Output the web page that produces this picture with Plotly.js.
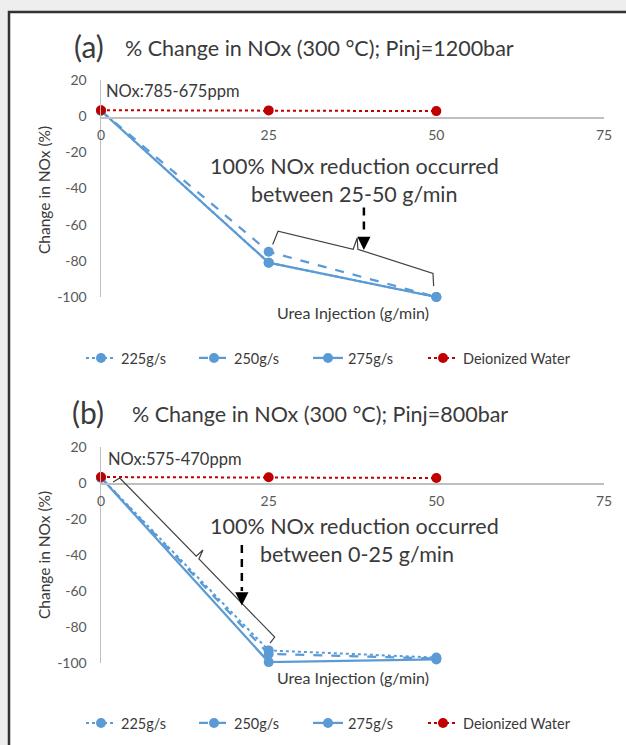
<!DOCTYPE html>
<html><head><meta charset="utf-8">
<script src="https://cdn.plot.ly/plotly-3.0.1.min.js"></script>
<style>html,body{margin:0;padding:0;background:#fff}#chart{width:626px;height:745px}</style>
</head><body><div id="chart"></div>
<script>
// ---- data ----
const injection = [0, 25, 50];
const seriesNames = ['225g/s', '250g/s', '275g/s', 'Deionized Water'];
// panel (a) Pinj = 1200 bar
const a225 = [3, -81, -100];
const a250 = [3, -75, -100];
const a275 = [3, -81, -100];
const aWater = [3.3, 3.2, 2.8];
// panel (b) Pinj = 800 bar
const b225 = [3, -93, -97];
const b250 = [3, -95, -97.5];
const b275 = [3, -99.5, -98];
const bWater = [3.3, 3.2, 2.8];
const xTickVals = [0, 25, 50, 75];
const xTickText = ['0', '25', '50', '75'];
const yTickVals = [20, 0, -20, -40, -60, -80, -100];
const yTickText = ['20', '0', '-20', '-40', '-60', '-80', '-100'];

const FONT = 'Lato, "Open Sans", sans-serif';
const BLUE = '#5B9BD5', RED = '#C00000', TXT = '#3a3a3a';

const styles = [
  {dash: 'dot', color: BLUE, width: 2},
  {dash: 'dash', color: BLUE, width: 2.25},
  {dash: 'solid', color: BLUE, width: 2.25},
  {dash: 'dot', color: RED, width: 2}
];

function mk(ys, i, xa, ya, leg) {
  return {
    x: injection, y: ys, name: seriesNames[i], type: 'scatter', mode: 'lines+markers',
    xaxis: xa, yaxis: ya, legend: leg, cliponaxis: false,
    line: {color: styles[i].color, dash: styles[i].dash, width: styles[i].width},
    marker: {color: styles[i].color, size: 10}
  };
}

const data = [
  mk(a225, 0, 'x', 'y', 'legend'), mk(a250, 1, 'x', 'y', 'legend2'),
  mk(a275, 2, 'x', 'y', 'legend3'), mk(aWater, 3, 'x', 'y', 'legend4'),
  mk(b225, 0, 'x2', 'y2', 'legend5'), mk(b250, 1, 'x2', 'y2', 'legend6'),
  mk(b275, 2, 'x2', 'y2', 'legend7'), mk(bWater, 3, 'x2', 'y2', 'legend8')
];

const W = 626, H = 745;
const px = v => v / W, py = v => 1 - v / H;
const xDom = [px(101), px(604)];

function xAxis(pos) {
  return {domain: xDom, range: [0, 75], anchor: 'free', position: pos,
    showline: true, linecolor: '#bfbfbf', linewidth: 1.5, ticks: '',
    tickvals: xTickVals, ticktext: xTickText, tickfont: {family: FONT, size: 14, color: '#595959'},
    ticklabelstandoff: 5, showgrid: false, zeroline: false, fixedrange: true};
}
function yAxis(dom, anc) {
  return {domain: dom, range: [-100, 20], anchor: anc,
    showline: true, linecolor: '#bfbfbf', linewidth: 1.5, ticks: '',
    tickvals: yTickVals, ticktext: yTickText, tickfont: {family: FONT, size: 14, color: '#595959'},
    ticklabelstandoff: 10, showgrid: false, zeroline: false, fixedrange: true};
}

function txt(text, x, y, size, xanchor, extra) {
  return Object.assign({text: text, xref: 'paper', yref: 'paper', x: px(x), y: py(y),
    xanchor: xanchor || 'left', yanchor: 'middle', showarrow: false,
    font: {family: FONT, size: size, color: TXT}}, extra || {});
}

const annotations = [
  // panel a
  txt('(a)', 72, 46, 30),
  txt('% Change in NOx (300 °C); Pinj=1200bar', 123, 48, 21.5),
  txt('NOx:785-675ppm', 104, 91, 16.5),
  txt('100% NOx reduction occurred', 354, 166, 21.5, 'center'),
  txt('between 25-50 g/min', 354, 194, 21.5, 'center'),
  txt('Urea Injection (g/min)', 353, 312, 16, 'center'),
  txt('Change in NOx (%)', 44, 190, 15.5, 'center', {textangle: -90}),
  {xref: 'x', yref: 'y', x: 39.2, y: -74, ax: 0, ay: -14, text: '', showarrow: true,
   arrowhead: 2, arrowsize: 1.2, arrowwidth: 2.2, arrowcolor: '#000'},
  // panel b
  txt('(b)', 70, 412, 30),
  txt('% Change in NOx (300 °C); Pinj=800bar', 130, 414, 21.5),
  txt('NOx:575-470ppm', 106, 459, 16.5),
  txt('100% NOx reduction occurred', 354, 526, 21.5, 'center'),
  txt('between 0-25 g/min', 357, 554, 21.5, 'center'),
  txt('Urea Injection (g/min)', 353, 677, 16, 'center'),
  txt('Change in NOx (%)', 44, 555, 15.5, 'center', {textangle: -90}),
  {xref: 'x2', yref: 'y2', x: 21.0, y: -68, ax: 0, ay: -14, text: '', showarrow: true,
   arrowhead: 2, arrowsize: 1.2, arrowwidth: 2.2, arrowcolor: '#000'}
];

const shapes = [
  // frame
  {type: 'rect', xref: 'paper', yref: 'paper', x0: px(9), x1: 1.05, y0: -0.05, y1: py(12),
   fillcolor: '#ffffff', line: {color: '#333333', width: 2.5}, layer: 'below'},
  // brace a
  {type: 'path', xref: 'x', yref: 'y', line: {color: '#404040', width: 1.2},
   path: 'M25.6,-71 L26.4,-63.6 L37.6,-73.6 L38.2,-67.4 L38.3,-73.6 L49.5,-87 L49.6,-94'},
  // dashed arrow shaft a
  {type: 'line', xref: 'x', yref: 'y', x0: 39.2, x1: 39.2, y0: -50.5, y1: -66,
   line: {color: '#000', width: 2.5, dash: '8px,6px'}},
  // brace b
  {type: 'path', xref: 'x2', yref: 'y2', line: {color: '#404040', width: 1.2},
   path: 'M1.8,0.5 L2.8,2.8 L14.2,-40.6 L15.2,-37.2 L14.6,-42.2 L25.9,-85.6 L25.2,-88.9'},
  {type: 'line', xref: 'x2', yref: 'y2', x0: 21.0, x1: 21.0, y0: -34.5, y1: -60,
   line: {color: '#000', width: 2.5, dash: '8px,6px'}}
];

function legendCfg(xText, y) {
  return {orientation: 'h', x: px(xText - 44), xanchor: 'left', y: py(y), yanchor: 'middle',
    font: {family: FONT, size: 14.5, color: TXT}, bgcolor: 'rgba(0,0,0,0)'};
}
const legTextX = [125, 238, 352, 467];

const layout = {
  width: W, height: H, margin: {l: 0, r: 0, t: 0, b: 0},
  paper_bgcolor: '#eeeeee', plot_bgcolor: 'rgba(0,0,0,0)',
  showlegend: true,
  xaxis: xAxis(py(117)), yaxis: yAxis([py(297), py(80)], 'x'),
  xaxis2: xAxis(py(483)), yaxis2: yAxis([py(663), py(447)], 'x2'),
  legend: legendCfg(legTextX[0], 358), legend2: legendCfg(legTextX[1], 358),
  legend3: legendCfg(legTextX[2], 358), legend4: legendCfg(legTextX[3], 358),
  legend5: legendCfg(legTextX[0], 723), legend6: legendCfg(legTextX[1], 723),
  legend7: legendCfg(legTextX[2], 723), legend8: legendCfg(legTextX[3], 723),
  annotations: annotations, shapes: shapes,
  font: {family: FONT, color: TXT}
};

Plotly.newPlot('chart', data, layout, {displayModeBar: false, staticPlot: true});
</script></body></html>
